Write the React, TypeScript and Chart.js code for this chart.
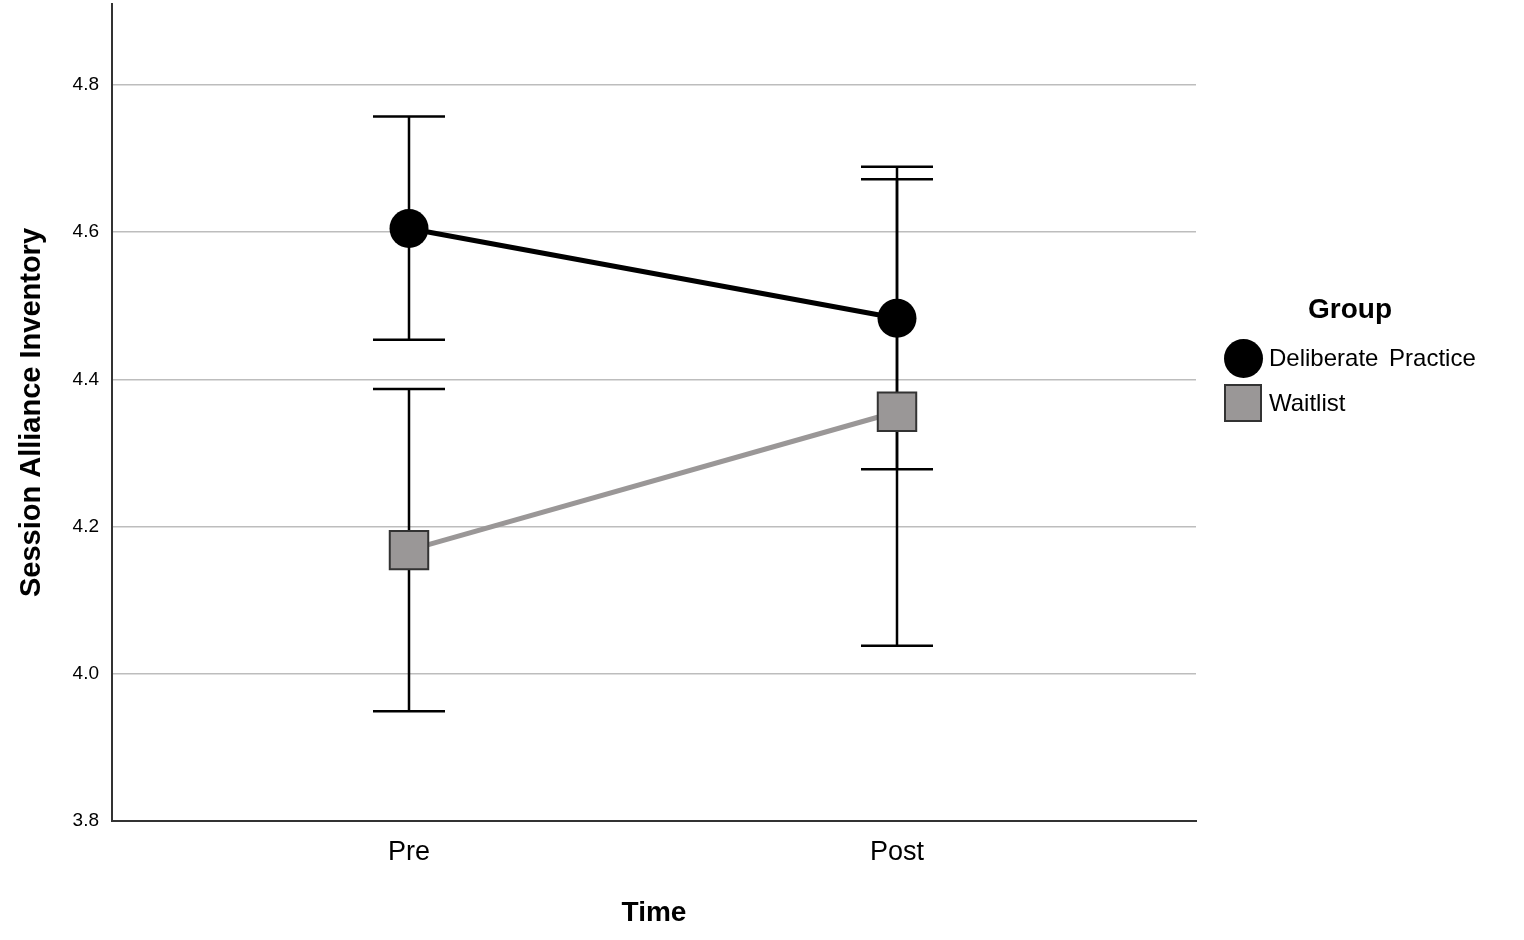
import { useEffect, useRef } from "react";
import { Chart, registerables } from "chart.js";

Chart.register(...registerables);

const timePoints = ["Pre", "Post"];
const groups = ["Deliberate Practice", "Waitlist"];
const practiceMeans = [4.605, 4.483];
const practiceUpper = [4.757, 4.689];
const practiceLower = [4.454, 4.278];
const waitlistMeans = [4.168, 4.356];
const waitlistUpper = [4.387, 4.672];
const waitlistLower = [3.949, 4.038];
const yTicks = [3.8, 4.0, 4.2, 4.4, 4.6, 4.8];

const FONT = "'Liberation Sans', Arial, sans-serif";
const GREY = "#9a9797";

// whiskers with caps, drawn under the markers
const errorBars = {
  id: "errorBars",
  beforeDatasetsDraw(chart: any) {
    const { ctx } = chart;
    const x = chart.scales.x;
    const y = chart.scales.y;
    const bounds = [
      [practiceLower, practiceUpper],
      [waitlistLower, waitlistUpper],
    ];
    ctx.save();
    ctx.strokeStyle = "#000";
    ctx.lineWidth = 2.5;
    bounds.forEach(([lo, hi]) => {
      lo.forEach((v, i) => {
        const px = x.getPixelForValue(i);
        const top = y.getPixelForValue(hi[i]);
        const bot = y.getPixelForValue(v);
        ctx.beginPath();
        ctx.moveTo(px, top);
        ctx.lineTo(px, bot);
        ctx.moveTo(px - 36, top);
        ctx.lineTo(px + 36, top);
        ctx.moveTo(px - 36, bot);
        ctx.lineTo(px + 36, bot);
        ctx.stroke();
      });
    });
    ctx.restore();
  },
};

const App = () => {
  const canvasRef = useRef<HTMLCanvasElement>(null);

  useEffect(() => {
    const ctx = canvasRef.current?.getContext("2d");
    if (!ctx) return;

    const chart = new Chart(ctx, {
      type: "line",
      data: {
        datasets: [
          {
            label: groups[0],
            data: practiceMeans.map((v, i) => ({ x: i, y: v })),
            borderColor: "#000",
            borderWidth: 5,
            pointStyle: "circle",
            pointRadius: 19.5,
            pointBackgroundColor: "#000",
            pointBorderColor: "#000",
            pointBorderWidth: 0,
          },
          {
            label: groups[1],
            data: waitlistMeans.map((v, i) => ({ x: i, y: v })),
            borderColor: GREY,
            borderWidth: 5,
            pointStyle: "rect",
            pointRadius: 27.2,
            pointBackgroundColor: GREY,
            pointBorderColor: "#333",
            pointBorderWidth: 2,
          },
        ],
      },
      options: {
        animation: false,
        responsive: true,
        maintainAspectRatio: false,
        layout: {
          autoPadding: false,
          padding: { left: 0, top: 4, right: 328, bottom: 0 },
        },
        plugins: {
          legend: { display: false },
          tooltip: { enabled: false },
        },
        scales: {
          x: {
            type: "linear",
            min: -0.6086,
            max: 1.6127,
            afterBuildTicks: (scale: any) => {
              scale.ticks = timePoints.map((_, i) => ({ value: i }));
            },
            afterFit: (scale: any) => {
              scale.height = 119;
            },
            grid: { display: false, drawTicks: false },
            border: { color: "#333", width: 2 },
            ticks: {
              padding: 15,
              color: "#000",
              font: { family: FONT, size: 27 },
              callback: (v: any) => timePoints[v] ?? "",
            },
            title: {
              display: true,
              text: "Time",
              color: "#000",
              font: { family: FONT, size: 28, weight: "bold" },
              padding: { top: 0, bottom: 10 },
            },
          },
          y: {
            min: 3.8,
            max: 4.91,
            afterBuildTicks: (scale: any) => {
              scale.ticks = yTicks.map((v) => ({ value: v }));
            },
            afterFit: (scale: any) => {
              scale.width = 112;
              scale.paddingTop = 0;
              scale.paddingBottom = 0;
            },
            grid: {
              drawTicks: false,
              color: (c: any) => (c.tick && c.tick.value === 3.8 ? "rgba(0,0,0,0)" : "#bdbdbd"),
              lineWidth: 1.5,
            },
            border: { color: "#333", width: 2 },
            ticks: {
              padding: 13,
              color: "#000",
              font: { family: FONT, size: 19 },
              callback: (v: any) => Number(v).toFixed(1),
            },
            title: {
              display: true,
              text: "Session Alliance Inventory",
              color: "#000",
              font: { family: FONT, size: 29, weight: "bold" },
              padding: { top: 15, bottom: 0 },
            },
          },
        },
      },
      plugins: [errorBars],
    } as any);

    return () => {
      chart.destroy();
    };
  }, []);

  return (
    <div
      style={{
        position: "fixed",
        left: 0,
        top: 0,
        width: 1524,
        height: 940,
        background: "#fff",
        fontFamily: FONT,
      }}
    >
      <canvas ref={canvasRef}></canvas>
      <div
        style={{
          position: "absolute",
          left: 1250,
          top: 292,
          width: 200,
          textAlign: "center",
          fontSize: 28,
          fontWeight: "bold",
          lineHeight: "34px",
        }}
      >
        Group
      </div>
      <div
        style={{
          position: "absolute",
          left: 1224,
          top: 339,
          width: 39,
          height: 39,
          borderRadius: "50%",
          background: "#000",
        }}
      />
      <div
        style={{
          position: "absolute",
          left: 1269,
          top: 344,
          fontSize: 24,
          lineHeight: "28px",
          wordSpacing: 4,
          whiteSpace: "nowrap",
        }}
      >
        {groups[0]}
      </div>
      <div
        style={{
          position: "absolute",
          left: 1224,
          top: 384,
          width: 38,
          height: 38,
          boxSizing: "border-box",
          border: "2px solid #333",
          background: GREY,
        }}
      />
      <div
        style={{
          position: "absolute",
          left: 1269,
          top: 389,
          fontSize: 24,
          lineHeight: "28px",
          whiteSpace: "nowrap",
        }}
      >
        {groups[1]}
      </div>
    </div>
  );
};

export default App;
